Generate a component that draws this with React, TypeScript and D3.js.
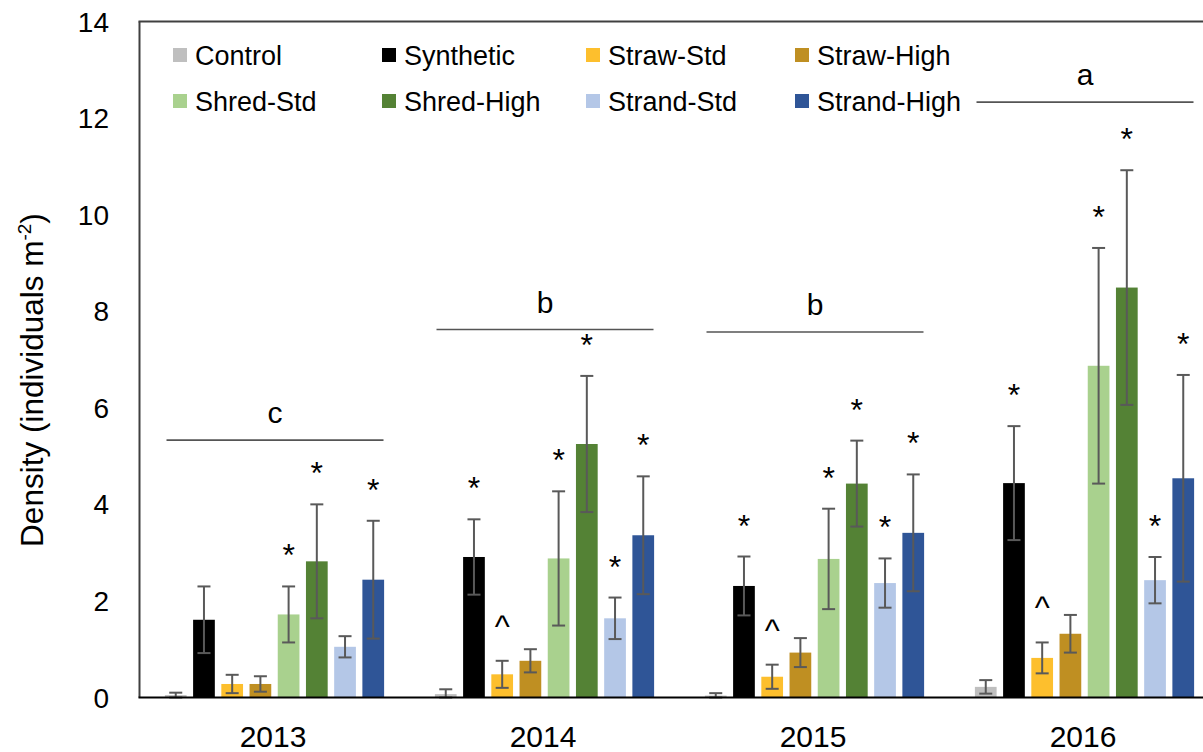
import { scaleBand, scaleLinear } from "d3";

const years = ["2013", "2014", "2015", "2016"];
const treatments = [
  "Control",
  "Synthetic",
  "Straw-Std",
  "Straw-High",
  "Shred-Std",
  "Shred-High",
  "Strand-Std",
  "Strand-High",
];
const colors = [
  "#bfbfbf",
  "#000000",
  "#fdbf2d",
  "#bf8f22",
  "#a9d18e",
  "#548235",
  "#b4c7e7",
  "#2f5597",
];

// mean density per treatment, one array per year
const mean2013 = [0.05, 1.61, 0.28, 0.28, 1.72, 2.82, 1.05, 2.44];
const mean2014 = [0.07, 2.91, 0.48, 0.76, 2.88, 5.25, 1.64, 3.36];
const mean2015 = [0.04, 2.31, 0.43, 0.93, 2.87, 4.43, 2.37, 3.41];
const mean2016 = [0.22, 4.44, 0.82, 1.32, 6.87, 8.49, 2.43, 4.54];

// standard errors
const se2013 = [0.05, 0.69, 0.19, 0.16, 0.58, 1.18, 0.22, 1.22];
const se2014 = [0.1, 0.78, 0.28, 0.24, 1.39, 1.41, 0.43, 1.22];
const se2015 = [0.05, 0.61, 0.25, 0.3, 1.04, 0.89, 0.51, 1.21];
const se2016 = [0.14, 1.18, 0.32, 0.39, 2.44, 2.43, 0.48, 2.14];

// significance marks vs control
const sig2013 = ["", "", "", "", "*", "*", "", "*"];
const sig2014 = ["", "*", "^", "", "*", "*", "*", "*"];
const sig2015 = ["", "*", "^", "", "*", "*", "*", "*"];
const sig2016 = ["", "*", "^", "", "*", "*", "*", "*"];

// year grouping letters and bracket levels
const yearLetters = ["c", "b", "b", "a"];
const letterLevels = [5.33, 7.62, 7.57, 12.33];

const yTicks = [0, 2, 4, 6, 8, 10, 12, 14];

const means = [mean2013, mean2014, mean2015, mean2016];
const ses = [se2013, se2014, se2015, se2016];
const sigs = [sig2013, sig2014, sig2015, sig2016];

const W = 1203;
const H = 752;
const left = 139.5;
const top = 21.5;
const bottom = 697.5;
const right = 1219.5;
const font = "'Liberation Sans', Arial, Helvetica, sans-serif";

export default function App() {
  const x = scaleBand<string>().domain(years).range([left, right]);
  const inner = scaleBand<string>()
    .domain(treatments)
    .range([0, x.bandwidth()])
    .paddingInner(0.23)
    .paddingOuter(0.9);
  const y = scaleLinear().domain([0, 14]).range([bottom, top]);
  const bw = inner.bandwidth();

  const legendCols = [173, 382, 586, 795];
  const legendRows = [55, 101];

  return (
    <svg
      width={W}
      height={H}
      style={{ position: "absolute", left: 0, top: 0, background: "#fff" }}
      fontFamily={font}
    >
      {/* frame */}
      <line x1={left} x2={left} y1={top} y2={bottom} stroke="#404040" strokeWidth={2} />
      <line x1={left - 1} x2={W} y1={top} y2={top} stroke="#404040" strokeWidth={2} />

      {/* y tick labels */}
      {yTicks.map((t) => (
        <text key={t} x={109} y={y(t)} dy="0.36em" textAnchor="end" fontSize={28} fill="#000">
          {t}
        </text>
      ))}

      {/* y axis title */}
      <text
        transform={`translate(43, 380) rotate(-90)`}
        textAnchor="middle"
        fontSize={31.5}
        fill="#000"
      >
        Density (individuals m
        <tspan fontSize={19} dy={-12}>
          -2
        </tspan>
        <tspan dy={12}>)</tspan>
      </text>

      {/* bars */}
      {years.map((yr, gi) => {
        const g0 = x(yr)!;
        return (
          <g key={yr}>
            {treatments.map((tr, i) => {
              const v = means[gi][i];
              const e = ses[gi][i];
              const bx = g0 + inner(tr)!;
              const cx = bx + bw / 2;
              const lo = y(Math.max(0, v - e));
              return (
                <g key={tr}>
                  <rect x={bx} y={y(v)} width={bw} height={bottom - y(v)} fill={colors[i]} />
                  <line x1={cx} x2={cx} y1={y(v + e)} y2={lo} stroke="#595959" strokeWidth={2} />
                  <line x1={cx - 6.5} x2={cx + 6.5} y1={y(v + e)} y2={y(v + e)} stroke="#595959" strokeWidth={2} />
                  <line x1={cx - 6.5} x2={cx + 6.5} y1={lo} y2={lo} stroke="#595959" strokeWidth={2} />
                  {sigs[gi][i] && (
                    <text
                      x={cx}
                      y={y(v + e) - (sigs[gi][i] === "*" ? 20 : 24)}
                      textAnchor="middle"
                      fontSize={32}
                      fill="#000"
                    >
                      {sigs[gi][i]}
                    </text>
                  )}
                </g>
              );
            })}
            {/* grouping bracket */}
            <line
              x1={g0 + x.bandwidth() / 2 - 108}
              x2={g0 + x.bandwidth() / 2 + 109}
              y1={y(letterLevels[gi])}
              y2={y(letterLevels[gi])}
              stroke="#555"
              strokeWidth={1.6}
            />
            <text
              x={g0 + x.bandwidth() / 2 + 0.5}
              y={y(letterLevels[gi]) - 17}
              textAnchor="middle"
              fontSize={30}
              fill="#000"
            >
              {yearLetters[gi]}
            </text>
            {/* year label */}
            <text x={g0 + x.bandwidth() / 2 - 1.5} y={747} textAnchor="middle" fontSize={30} fill="#000">
              {yr}
            </text>
          </g>
        );
      })}

      {/* x axis line */}
      <line x1={left - 1} x2={W} y1={bottom} y2={bottom} stroke="#000" strokeWidth={2} />

      {/* legend */}
      {treatments.map((tr, i) => {
        const lx = legendCols[i % 4];
        const ly = legendRows[Math.floor(i / 4)];
        return (
          <g key={tr}>
            <rect x={lx} y={ly - 7} width={14} height={14} fill={colors[i]} />
            <text x={lx + 22} y={ly} dy="0.36em" fontSize={27} fill="#000">
              {tr}
            </text>
          </g>
        );
      })}
    </svg>
  );
}
